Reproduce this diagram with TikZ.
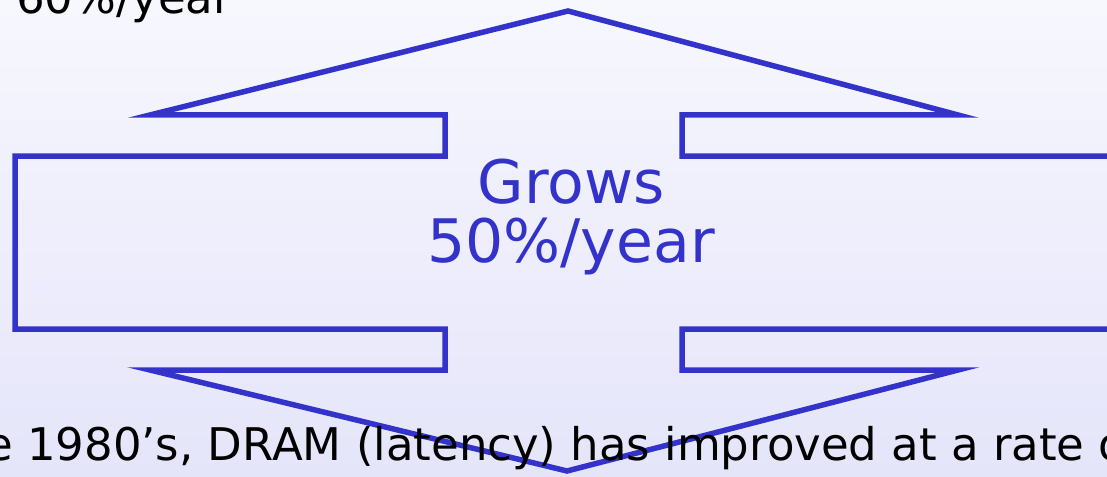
\documentclass[tikz,border=0pt]{standalone}
\usepackage{fontspec}
\setmainfont{DejaVu Sans}
\definecolor{shapeblue}{RGB}{51,51,204}
\definecolor{bgtop}{RGB}{247,247,254}
\definecolor{bgbottom}{RGB}{229,229,250}
\begin{document}
\begin{tikzpicture}[x=1pt,y=-1pt,
  outline/.style={draw=shapeblue,line width=5.5pt,line join=miter,miter limit=12},
  bigtext/.style={font=\fontsize{45}{54}\selectfont,text=black,inner sep=0pt},
  growlabel/.style={font=\fontsize{60}{59}\selectfont,text=shapeblue,align=center,inner sep=0pt}]
\useasboundingbox (0,0) rectangle (1107,476);
\clip (0,0) rectangle (1107,476);
\shade[top color=bgtop,bottom color=bgbottom] (0,0) rectangle (1107,476);
% double-headed block arrow
\draw[outline] (568,11) -- (958,115) -- (682,115) -- (682,156) -- (1125,156)
  -- (1125,329) -- (682,329) -- (682,370) -- (958,370) -- (567,471)
  -- (150,370) -- (445,370) -- (445,329) -- (15,329) -- (15,156)
  -- (445,156) -- (445,115) -- (150,115) -- cycle;
\node[growlabel] (grows) at (571,217) {Grows\\50\%/year};
\node[bigtext,anchor=base east] (toptext) at (232,14) {60\%/year};
\node[bigtext,anchor=base west] (bottomtext) at (-15,460) {e 1980's, DRAM (latency) has improved at a rate o};
\end{tikzpicture}
\end{document}
